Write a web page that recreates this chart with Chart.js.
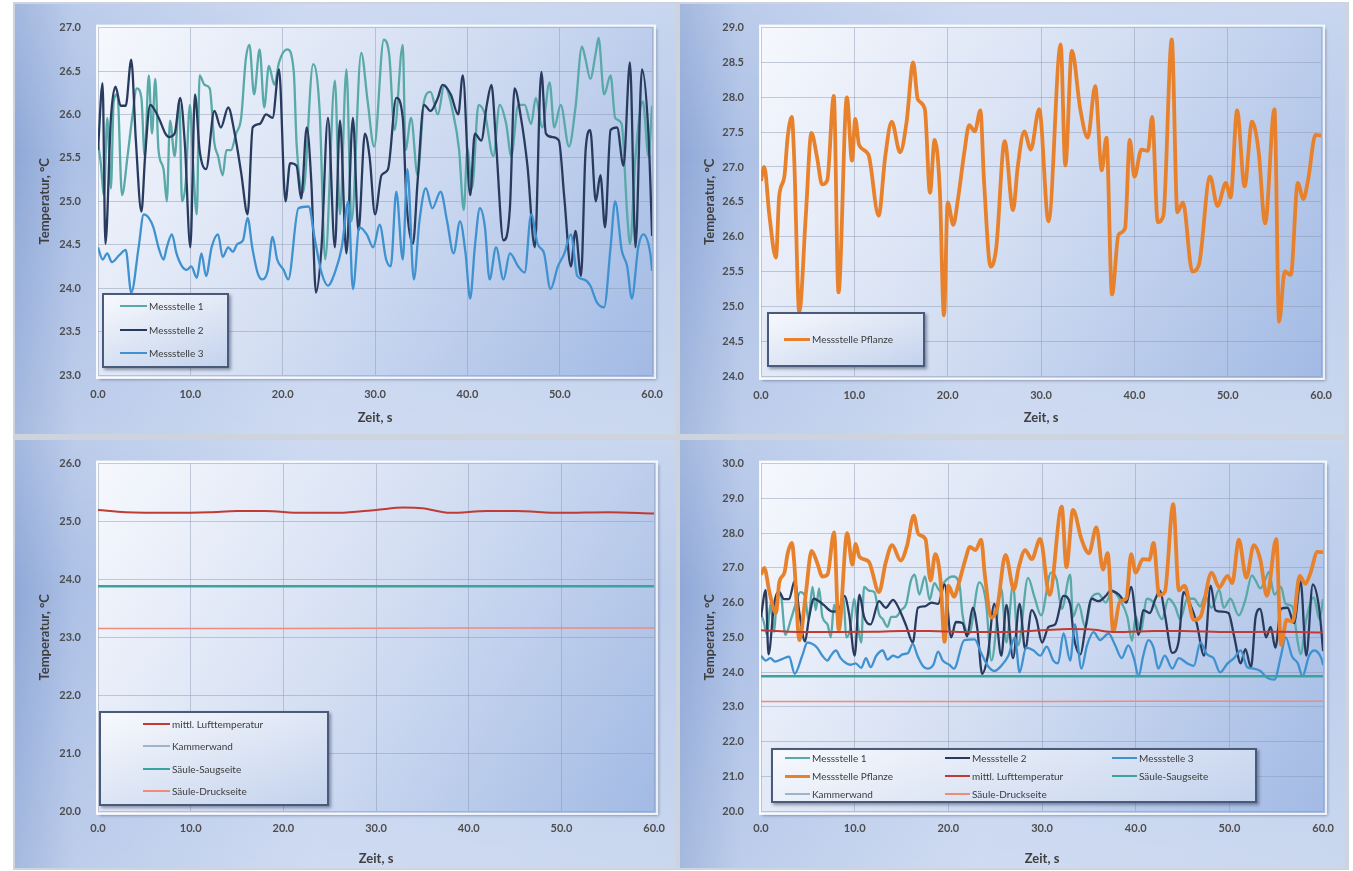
<!DOCTYPE html>
<html>
<head>
<meta charset="utf-8">
<script src="https://cdn.jsdelivr.net/npm/chart.js@4.4.1/dist/chart.umd.min.js"></script>
<style>
  body { margin: 0; width: 1353px; height: 871px; overflow: hidden; position: relative; background: #fff; font-family: Lato, sans-serif; }
  #frame { position: absolute; left: 13px; top: 2px; width: 1336px; height: 868px; background: #cdd4dd; }
  .panel {
    position: absolute; overflow: hidden;
    background:
      linear-gradient(180deg, rgba(255,255,255,0.18) 0%, rgba(255,255,255,0) 35%, rgba(255,255,255,0.2) 100%),
      linear-gradient(90deg, #8fa8d7 0%, #adc1e6 9%, #c3d2ee 45%, #bccdeb 100%);
  }
  .panel canvas { position: absolute; left: 0; top: 0; }
  .legend {
    position: absolute; box-sizing: border-box;
    border: 2px solid #4a5a7a;
    background: linear-gradient(160deg, #f7f9fd 0%, #dbe4f4 55%, #c3d2ed 100%);
    box-shadow: 2px 2px 3px rgba(30, 40, 70, 0.45);
  }
  .item { position: absolute; height: 12px; line-height: 12px; font-size: 10px; color: #3b3b3b; white-space: nowrap; }
  .item i { position: absolute; left: 0; }
  .item span { position: absolute; top: 0; }
</style>
</head>
<body>
<div id="frame"></div>
<div class="panel" id="tl" style="left:15px;top:4px;width:661px;height:430px"><canvas id="cTL" width="661" height="430"></canvas></div>
<div class="panel" id="tr" style="left:680px;top:4px;width:665px;height:430px"><canvas id="cTR" width="665" height="430"></canvas></div>
<div class="panel" id="bl" style="left:15px;top:440px;width:661px;height:428px"><canvas id="cBL" width="661" height="428"></canvas></div>
<div class="panel" id="br" style="left:680px;top:440px;width:665px;height:428px"><canvas id="cBR" width="665" height="428"></canvas></div>
<script>
// axis ticks
const xTicks = [0, 10, 20, 30, 40, 50, 60];
const yTicksTL = [23.0, 23.5, 24.0, 24.5, 25.0, 25.5, 26.0, 26.5, 27.0];
const yTicksTR = [24.0, 24.5, 25.0, 25.5, 26.0, 26.5, 27.0, 27.5, 28.0, 28.5, 29.0];
const yTicksBL = [20.0, 21.0, 22.0, 23.0, 24.0, 25.0, 26.0];
const yTicksBR = [20.0, 21.0, 22.0, 23.0, 24.0, 25.0, 26.0, 27.0, 28.0, 29.0, 30.0];

// Messstelle 1
const m1T = [0, 0.3, 0.65, 1.0, 1.4, 1.7, 2.1, 2.6, 3.2, 3.7, 4.2, 4.7, 5.05, 5.5, 5.85, 6.2, 6.55, 7.1, 7.45, 7.8,
  8.3, 8.8, 9.1, 9.5, 9.95, 10.3, 10.7, 11.0, 11.55, 12.1, 12.6, 13.0, 13.5, 13.9, 14.4, 14.95, 15.5, 16.0, 16.4, 16.9,
  17.5, 18.0, 18.5, 19.1, 19.6, 20.5, 21.2, 21.5, 22.2, 23.3, 24.0, 24.6, 25.65, 26.2, 26.9, 27.45, 28.5, 29.2, 29.9, 30.95,
  31.55, 32.1, 33.0, 33.3, 33.9, 34.6, 35.3, 36.0, 36.8, 37.5, 38.4, 39.1, 39.6, 40.0, 40.5, 41.2, 41.9, 42.8, 43.5, 44.2,
  44.75, 45.5, 46.2, 46.9, 47.4, 48.1, 48.9, 49.4, 50.1, 51.0, 51.7, 52.4, 52.8, 53.3, 53.9, 54.2, 54.8, 55.5, 56.0, 56.7,
  57.3, 57.6, 58.2, 59.0, 59.6, 60.0];
const m1V = [25.67, 25.44, 25.07, 25.96, 25.15, 26.15, 26.23, 25.07, 25.52, 25.96, 26.3, 26.19, 25.52, 26.45, 25.78, 26.41, 25.59, 25.37, 25.0, 25.93,
  25.52, 26.15, 25.0, 25.22, 26.11, 25.41, 24.85, 26.45, 26.34, 26.3, 25.67, 25.52, 25.3, 25.59, 25.59, 25.78, 25.96, 26.63, 26.8, 26.23,
  26.75, 26.08, 26.56, 26.34, 26.6, 26.75, 26.49, 25.67, 25.1, 26.58, 26.04, 24.33, 26.39, 24.85, 26.52, 24.77, 26.71, 26.15, 25.63, 26.86,
  26.67, 25.82, 26.8, 25.59, 25.96, 25.3, 26.15, 26.26, 26.0, 26.34, 26.04, 25.59, 24.9, 25.6, 25.15, 26.11, 26.0, 25.52, 26.11, 25.89,
  25.52, 26.11, 26.11, 25.89, 26.19, 25.85, 26.37, 25.85, 26.11, 25.63, 26.08, 26.78, 26.63, 26.41, 26.71, 26.88, 26.23, 26.45, 25.96, 25.89,
  24.85, 24.51, 25.52, 26.15, 25.52, 26.1];

// Messstelle 2
const m2T = [0, 0.5, 0.8, 1.4, 1.9, 2.45, 3.0, 3.6, 4.1, 4.7, 5.1, 5.65, 6.2, 6.7, 7.3, 7.7, 8.3, 8.9, 9.4, 10.0,
  10.5, 11.0, 11.7, 12.6, 13.3, 14.1, 14.8, 15.5, 16.2, 16.75, 17.5, 18.2, 18.9, 19.6, 20.3, 20.8, 21.5, 22.0, 22.6, 23.1,
  23.6, 24.2, 24.9, 25.65, 26.2, 26.9, 27.6, 28.2, 28.9, 29.4, 30.0, 30.7, 31.4, 32.3, 33.0, 33.4, 34.1, 34.6, 35.3, 36.0,
  36.8, 37.3, 38.2, 39.0, 39.5, 40.3, 40.8, 41.5, 42.1, 42.6, 43.1, 43.9, 44.6, 45.1, 45.8, 46.5, 47.3, 48.0, 48.5, 49.2,
  49.9, 50.5, 51.2, 51.7, 52.3, 52.8, 53.3, 53.9, 54.4, 54.9, 55.5, 56.2, 56.9, 57.6, 58.2, 58.9, 59.6, 60.0];
const m2V = [25.59, 26.36, 24.51, 25.96, 26.32, 26.1, 26.1, 26.63, 25.7, 24.88, 25.52, 26.11, 26.04, 25.93, 25.78, 25.74, 25.78, 26.19, 25.67, 24.47,
  26.23, 25.59, 25.37, 26.04, 25.85, 26.08, 25.78, 25.33, 24.85, 25.85, 25.89, 26.0, 25.96, 26.52, 25.0, 25.44, 25.41, 25.03, 25.85, 25.22,
  23.95, 24.47, 25.96, 24.47, 25.93, 24.4, 25.96, 24.66, 25.78, 25.52, 24.85, 25.3, 25.37, 26.19, 25.96, 25.0, 24.51, 25.22, 26.11, 26.04,
  26.19, 26.34, 26.23, 26.0, 26.45, 25.07, 25.78, 25.7, 26.11, 26.34, 25.67, 24.55, 24.92, 26.3, 25.96, 25.41, 24.47, 26.49, 25.78, 25.74,
  25.7, 25.03, 24.25, 24.66, 24.14, 25.59, 25.82, 25.0, 25.3, 24.7, 25.82, 25.85, 25.41, 26.6, 24.47, 26.52, 25.78, 24.6];

// Messstelle 3
const m3T = [0, 0.5, 1.0, 1.5, 2.3, 3.0, 3.6, 4.4, 4.95, 5.5, 6.0, 6.55, 7.1, 7.45, 8.0, 8.5, 9.1, 9.6, 10.1, 10.7,
  11.2, 11.7, 12.3, 13.0, 13.5, 14.1, 14.6, 15.1, 15.7, 16.2, 16.7, 17.3, 17.8, 18.4, 18.9, 19.4, 20.1, 20.6, 21.7, 22.8,
  23.5, 24.2, 24.9, 25.65, 26.4, 27.1, 27.6, 28.3, 29.1, 29.8, 30.5, 31.2, 31.7, 32.3, 33.0, 33.5, 34.2, 34.8, 35.5, 36.2,
  37.1, 37.8, 38.5, 39.2, 39.8, 40.3, 40.8, 41.35, 41.9, 42.4, 43.1, 43.9, 44.6, 45.5, 46.2, 46.9, 47.6, 48.3, 49.0, 49.8,
  50.5, 51.2, 51.9, 52.6, 53.3, 54.0, 54.8, 55.5, 56.0, 56.7, 57.3, 57.8, 58.5, 59.05, 59.8, 60.0];
const m3V = [24.47, 24.33, 24.4, 24.3, 24.38, 24.44, 23.95, 24.47, 24.85, 24.81, 24.7, 24.47, 24.33, 24.47, 24.62, 24.4, 24.25, 24.21, 24.25, 24.12,
  24.4, 24.14, 24.47, 24.62, 24.36, 24.47, 24.42, 24.51, 24.55, 24.81, 24.47, 24.17, 24.1, 24.21, 24.59, 24.33, 24.21, 24.1, 24.92, 24.94,
  24.55, 24.18, 24.03, 24.18, 24.47, 25.0, 23.99, 24.7, 24.62, 24.47, 24.73, 24.33, 24.25, 25.11, 24.33, 25.37, 24.1, 24.77, 25.15, 24.92,
  25.11, 24.77, 24.4, 24.77, 24.4, 23.88, 24.47, 24.92, 24.7, 24.1, 24.47, 24.1, 24.4, 24.25, 24.18, 24.85, 24.51, 24.4, 23.99, 24.25,
  24.4, 24.62, 24.14, 24.1, 24.03, 23.84, 23.78, 24.47, 25.0, 24.44, 24.25, 23.88, 24.47, 24.62, 24.4, 24.2];

// Messstelle Pflanze
const pflT = [0, 0.35, 0.9, 1.6, 1.95, 2.5, 2.85, 3.3, 3.55, 4.1, 4.8, 5.4, 6.0, 6.55, 7.1, 7.8, 8.3, 9.2, 9.75, 10.1,
  10.5, 11.5, 12.6, 13.3, 14.0, 14.9, 15.6, 16.3, 16.8, 17.55, 18.1, 18.6, 19.15, 19.6, 20.0, 20.6, 21.1, 21.8, 22.3, 22.9,
  23.5, 23.9, 24.6, 25.2, 26.1, 27.0, 27.5, 28.2, 28.9, 29.8, 30.8, 32.1, 32.6, 33.3, 34.2, 35.0, 35.8, 36.5, 37.0, 37.6,
  38.3, 39.0, 39.5, 40.0, 40.75, 41.45, 41.9, 42.5, 43.1, 44.0, 44.6, 45.2, 46.2, 46.9, 48.1, 48.9, 49.8, 50.3, 51.0, 51.8,
  52.6, 53.3, 54.0, 55.0, 55.5, 56.1, 56.75, 57.5, 58.1, 58.6, 59.4, 60.0];
const pflV = [26.8, 27.0, 26.3, 25.7, 26.58, 26.86, 27.42, 27.72, 27.14, 24.92, 26.3, 27.49, 27.14, 26.75, 26.81, 28.02, 25.2, 28.0, 27.09, 27.69,
  27.32, 27.18, 26.3, 27.14, 27.65, 27.21, 27.65, 28.5, 27.97, 27.83, 26.63, 27.39, 26.68, 24.87, 26.49, 26.17, 26.54, 27.23, 27.6, 27.51,
  27.81, 26.77, 25.57, 25.84, 27.37, 26.38, 27.0, 27.51, 27.25, 27.83, 26.22, 28.76, 27.02, 28.67, 27.83, 27.42, 28.16, 26.95, 27.42, 25.17,
  26.03, 26.12, 27.39, 26.86, 27.25, 27.23, 27.72, 26.21, 26.3, 28.83, 26.35, 26.49, 25.5, 25.59, 26.86, 26.44, 26.77, 26.56, 27.81, 26.72,
  27.65, 27.23, 26.19, 27.83, 24.78, 25.5, 25.45, 26.77, 26.54, 26.81, 27.46, 27.45];

// mittl. Lufttemperatur
const luftT = [0, 3, 8, 12, 15, 18, 22, 26, 30, 33, 35, 38, 42, 45, 50, 55, 60];
const luftV = [25.2, 25.16, 25.15, 25.16, 25.18, 25.18, 25.15, 25.15, 25.2, 25.24, 25.23, 25.15, 25.18, 25.18, 25.15, 25.16, 25.14];

// Kammerwand, Säule-Saugseite, Säule-Druckseite
const kammerT = [0, 20, 40, 60];
const kammerV = [23.89, 23.89, 23.89, 23.89];
const saugT = [0, 20, 40, 60];
const saugV = [23.88, 23.88, 23.88, 23.88];
const druckT = [0, 20, 40, 60];
const druckV = [23.15, 23.15, 23.16, 23.16];

const series = {
  m1:    { label: 'Messstelle 1', t: m1T, v: m1V, color: '#58a9a7', width: 2.3 },
  m2:    { label: 'Messstelle 2', t: m2T, v: m2V, color: '#283b5e', width: 2.3 },
  m3:    { label: 'Messstelle 3', t: m3T, v: m3V, color: '#3f91cf', width: 2.3 },
  pfl:   { label: 'Messstelle Pflanze', t: pflT, v: pflV, color: '#e8812c', width: 3.8 },
  luft:  { label: 'mittl. Lufttemperatur', t: luftT, v: luftV, color: '#bf3b33', width: 2 },
  saug:  { label: 'Säule-Saugseite', t: saugT, v: saugV, color: '#3aa39e', width: 2.5 },
  kammer:{ label: 'Kammerwand', t: kammerT, v: kammerV, color: '#9db4ca', width: 1.5 },
  druck: { label: 'Säule-Druckseite', t: druckT, v: druckV, color: '#f08b7b', width: 1.5 }
};

Chart.defaults.font.family = 'Lato, sans-serif';

const plotBg = {
  id: 'plotBg',
  beforeDraw(chart) {
    const { ctx, chartArea: a } = chart;
    const g = ctx.createLinearGradient(a.left, a.top, a.right, a.bottom);
    g.addColorStop(0, '#f6f8fd');
    g.addColorStop(0.45, '#d6e0f3');
    g.addColorStop(1, '#a2bae4');
    ctx.save();
    ctx.shadowColor = 'rgba(40, 50, 80, 0.5)';
    ctx.shadowOffsetX = 2;
    ctx.shadowOffsetY = 2;
    ctx.shadowBlur = 3;
    ctx.fillStyle = g;
    ctx.fillRect(a.left - 1, a.top - 2, a.right - a.left + 4, a.bottom - a.top + 5);
    ctx.restore();
    ctx.save();
    ctx.strokeStyle = 'rgba(255,255,255,0.85)';
    ctx.lineWidth = 2;
    ctx.strokeRect(a.left - 1, a.top - 2, a.right - a.left + 4, a.bottom - a.top + 5);
    ctx.restore();
  }
};

function makeDataset(key, i) {
  const s = series[key];
  return {
    label: s.label,
    data: s.t.map((t, j) => ({ x: t, y: s.v[j] })),
    borderColor: s.color,
    borderWidth: s.width,
    pointRadius: 0,
    tension: 0.4,
    cubicInterpolationMode: 'monotone',
    order: -i
  };
}

function makeChart(canvasId, keys, yTicks, geo) {
  const grid = { color: 'rgba(135, 148, 172, 0.45)', lineWidth: 1, drawTicks: false };
  new Chart(document.getElementById(canvasId), {
    type: 'line',
    data: { datasets: keys.map(makeDataset) },
    options: {
      responsive: false,
      animation: false,
      layout: { padding: { left: 0, top: geo.top, right: geo.right, bottom: 0 } },
      plugins: { legend: { display: false }, tooltip: { enabled: false } },
      scales: {
        x: {
          type: 'linear', min: 0, max: 60,
          afterBuildTicks: s => { s.ticks = xTicks.map(v => ({ value: v })); },
          afterFit: s => { s.height = geo.xH; },
          grid: grid, border: { display: false },
          ticks: { padding: geo.xPad, color: '#4d4d4d', font: { size: 11, weight: 'bold' }, maxRotation: 0,
                   callback: v => Number(v).toFixed(1) },
          title: { display: true, text: 'Zeit, s', color: '#3f3f3f', font: { size: 13, weight: 'bold' },
                   padding: { top: 0, bottom: geo.titlePad } }
        },
        y: {
          min: yTicks[0], max: yTicks[yTicks.length - 1],
          afterBuildTicks: s => { s.ticks = yTicks.map(v => ({ value: v })); },
          afterFit: s => { s.width = geo.yW; },
          grid: grid, border: { display: false },
          ticks: { padding: 17, color: '#4d4d4d', font: { size: 11, weight: 'bold' },
                   callback: v => Number(v).toFixed(1) },
          title: { display: true, text: 'Temperatur, °C', color: '#3f3f3f', font: { size: 13, weight: 'bold' },
                   padding: { top: 22, bottom: 0 } }
        }
      }
    },
    plugins: [plotBg]
  });
}

makeChart('cTL', ['m1', 'm2', 'm3'], yTicksTL, { top: 13, right: 19, yW: 83, xH: 59, xPad: 13, titlePad: 8 });
makeChart('cTR', ['pfl'], yTicksTR, { top: 12, right: 20, yW: 81, xH: 58, xPad: 13, titlePad: 8 });
makeChart('cBL', ['luft', 'kammer', 'saug', 'druck'], yTicksBL, { top: 12, right: 19, yW: 83, xH: 57, xPad: 11, titlePad: 1 });
makeChart('cBR', ['m1', 'm2', 'm3', 'pfl', 'luft', 'kammer', 'saug', 'druck'], yTicksBR, { top: 12, right: 20, yW: 81, xH: 57, xPad: 11, titlePad: 1 });

// legends drawn inside the plot areas
function addLegend(panelId, box, sampleW, items) {
  const lg = document.createElement('div');
  lg.className = 'legend';
  lg.style.left = box[0] + 'px';
  lg.style.top = box[1] + 'px';
  lg.style.width = box[2] + 'px';
  lg.style.height = box[3] + 'px';
  items.forEach(([key, x, y]) => {
    const s = series[key];
    const it = document.createElement('div');
    it.className = 'item';
    it.style.left = x + 'px';
    it.style.top = (y - 6) + 'px';
    const h = Math.max(1.5, Math.min(s.width, 3));
    it.innerHTML = '<i style="width:' + sampleW + 'px;height:' + h + 'px;top:' + (6 - h / 2) + 'px;background:' + s.color + '"></i>' +
      '<span style="left:' + (sampleW + 2) + 'px">' + s.label + '</span>';
    lg.appendChild(it);
  });
  document.getElementById(panelId).appendChild(lg);
}

addLegend('tl', [87, 289, 127, 75], 27, [['m1', 16, 11], ['m2', 16, 35], ['m3', 16, 58]]);
addLegend('tr', [87, 308, 158, 55], 26, [['pfl', 15, 25]]);
addLegend('bl', [84, 271, 230, 95], 27, [['luft', 42, 11], ['kammer', 42, 33], ['saug', 42, 56], ['druck', 42, 78]]);
addLegend('br', [91, 308, 486, 55], 25, [
  ['m1', 12, 8], ['m2', 172, 8], ['m3', 339, 8],
  ['pfl', 12, 26], ['luft', 172, 26], ['saug', 339, 26],
  ['kammer', 12, 44], ['druck', 172, 44]
]);
</script>
</body>
</html>
